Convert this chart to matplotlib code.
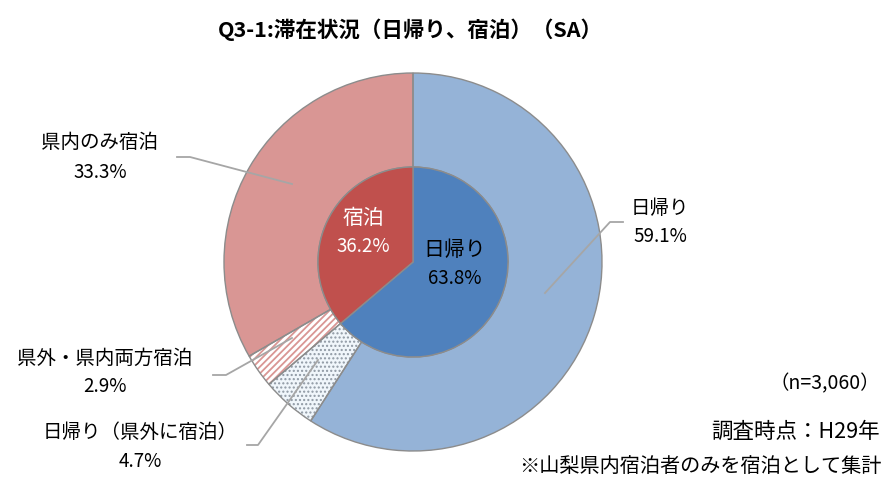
import matplotlib.pyplot as plt

plt.rcParams['font.family'] = ['Noto Sans CJK JP', 'DejaVu Sans']

outer_labels = ["日帰り", "日帰り（県外に宿泊）", "県外・県内両方宿泊", "県内のみ宿泊"]
outer_values = [59.1, 4.7, 2.9, 33.3]
outer_colors = ["#95B3D7", "#F0F6FB", "#FFFFFF", "#D99694"]
outer_hatch = [None, "....", "/////", None]
outer_hatch_colors = [None, "#8E98A3", "#D99694", None]

inner_labels = ["日帰り", "宿泊"]
inner_values = [63.8, 36.2]
inner_colors = ["#4F81BD", "#C0504D"]

W, H = 887, 480
cx, cy = 413, H - 262
r_out, r_in = 189, 95

fig = plt.figure(figsize=(8.87, 4.8), dpi=100)
ax = fig.add_axes([0, 0, 1, 1])

# outer ring: base fill
ax.pie(outer_values, colors=outer_colors, startangle=90, counterclock=False,
       radius=r_out, center=(cx, cy), frame=True,
       wedgeprops=dict(width=r_out - r_in, linewidth=0))
# hatch overlay
hw, _ = ax.pie(outer_values, colors=["none"] * 4, startangle=90, counterclock=False,
               radius=r_out, center=(cx, cy), frame=True,
               wedgeprops=dict(width=r_out - r_in, linewidth=0))
for w, h, hc in zip(hw, outer_hatch, outer_hatch_colors):
    if h:
        w.set_hatch(h)
        w.set_edgecolor(hc)
        w.set_hatch_linewidth(1.3 if "/" in h else 1.0)
    else:
        w.set_visible(False)
# outlines
ax.pie(outer_values, colors=["none"] * 4, startangle=90, counterclock=False,
       radius=r_out, center=(cx, cy), frame=True,
       wedgeprops=dict(width=r_out - r_in, linewidth=1.0, edgecolor="#8C8C8C"))

# inner pie
ax.pie(inner_values, colors=inner_colors, startangle=90, counterclock=False,
       radius=r_in, center=(cx, cy), frame=True,
       wedgeprops=dict(linewidth=1.0, edgecolor="#8C8C8C"))
ax.set_xlim(0, W)
ax.set_ylim(0, H)
ax.set_aspect("equal")
ax.axis("off")

def Y(y):
    return H - y

fs = 14
fn = 13.5
# inner labels
ax.text(363, Y(218), inner_labels[1], color="white", fontsize=15, ha="center", va="center")
ax.text(363, Y(246), f"{inner_values[1]}%", color="white", fontsize=fn, ha="center", va="center")
ax.text(455, Y(250), inner_labels[0], color="black", fontsize=15, ha="center", va="center")
ax.text(455, Y(278), f"{inner_values[0]}%", color="black", fontsize=fn, ha="center", va="center")

# outer labels with leader lines
lab_pos = [(660, 208), (140, 433), (105, 358), (100, 143)]
leaders = [
    [(623, 222), (610, 222), (545, 293)],
    [(247, 445), (258, 445), (318, 360)],
    [(213, 375), (226, 375), (292, 338)],
    [(177, 157), (190, 157), (292, 184)],
]
for lab, val, (tx, ty), pts in zip(outer_labels, outer_values, lab_pos, leaders):
    ax.text(tx, Y(ty), lab, fontsize=fs, ha="center", va="center")
    ax.text(tx, Y(ty + 29), f"{val}%", fontsize=fn, ha="center", va="center")
    ax.plot([p[0] for p in pts], [Y(p[1]) for p in pts], color="#A6A6A6", lw=1.3)

ax.text(410, Y(30), "Q3-1:滞在状況（日帰り、宿泊）（SA）", fontsize=15.5, fontweight="bold",
        ha="center", va="center")
ax.text(880, Y(384), "（n=3,060）", fontsize=14, ha="right", va="center")
ax.text(880, Y(432), "調査時点：H29年", fontsize=15.5, ha="right", va="center")
ax.text(882, Y(467), "※山梨県内宿泊者のみを宿泊として集計", fontsize=14.5, ha="right", va="center")

fig.savefig("out.png", dpi=100)
